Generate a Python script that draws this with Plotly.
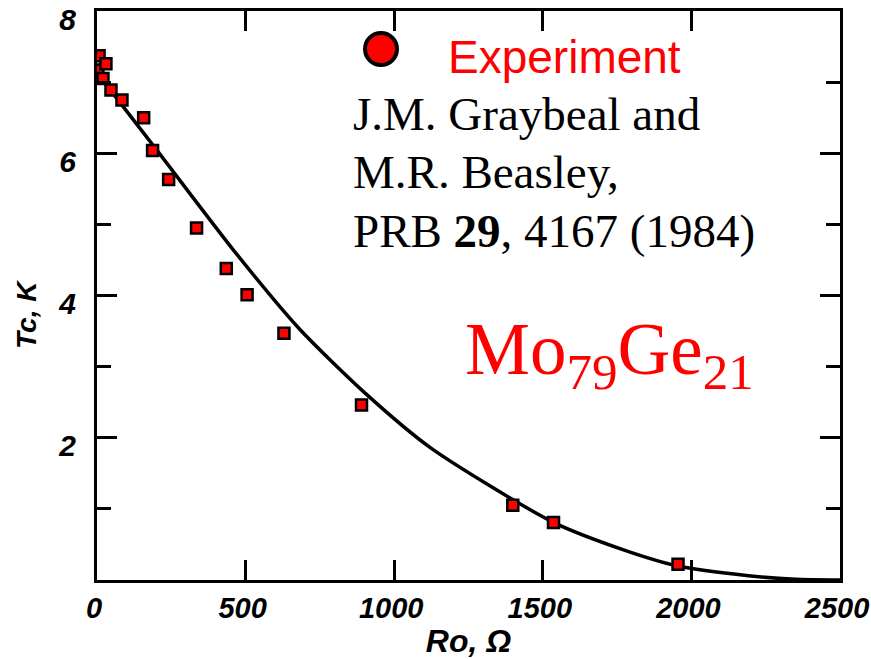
import plotly.graph_objects as go

# Experimental points (sheet resistance R, Ohm ; Tc, K)
exp_R = [3, 7, 20, 30, 47, 84, 157, 187, 241, 335, 435, 505, 629, 890, 1399, 1536, 1955]
exp_Tc = [7.17, 7.37, 7.05, 7.26, 6.89, 6.75, 6.50, 6.04, 5.63, 4.95, 4.38, 4.01, 3.47, 2.46, 1.05, 0.81, 0.22]

# Theory curve
th_R = [0, 200, 455, 679, 904, 1125, 1536, 1774, 1951, 2192, 2350, 2500]
th_Tc = [7.13, 6.05, 4.66, 3.54, 2.62, 1.85, 0.81, 0.42, 0.20, 0.06, 0.01, 0.0]

x_ticks = [0, 500, 1000, 1500, 2000, 2500]
y_ticks = [2, 4, 6, 8]
y_minor = [1, 3, 5, 7]

W, H = 871, 659
L, R, T, B = 97, 31, 11, 79
pw, ph = W - L - R, H - T - B

def px(xp):
    return (xp - L) / pw

def py(yp):
    return (H - B - yp) / ph

fig = go.Figure()
fig.add_trace(go.Scatter(x=th_R, y=th_Tc, mode="lines", line=dict(color="black", width=3.5, shape="spline", smoothing=0.7),
                         showlegend=False, hoverinfo="skip"))
fig.add_trace(go.Scatter(x=exp_R, y=exp_Tc, mode="markers", name="Experiment",
                         marker=dict(symbol="square", size=11, color="#ff0000", line=dict(color="black", width=2.5)),
                         showlegend=False))

fig.update_xaxes(range=[0, 2500], tickmode="array", tickvals=x_ticks, ticktext=[str(v) for v in x_ticks],
                 ticks="inside", ticklen=20, tickwidth=2.5, tickcolor="black",
                 showline=True, linewidth=3, linecolor="black", mirror="ticks",
                 showgrid=False, zeroline=False, ticklabelstandoff=0, ticklabelshift=-3,
                 tickfont=dict(family="Liberation Sans", size=29, color="black", style="italic", weight="bold"),
                 title=dict(text="Ro, Ω", font=dict(family="Liberation Sans", size=32, color="black", style="italic", weight="bold"), standoff=6))
fig.update_yaxes(range=[0, 8], tickmode="array", tickvals=y_ticks, ticktext=[str(v) for v in y_ticks],
                 ticks="inside", ticklen=20, tickwidth=2.5, tickcolor="black",
                 minor=dict(tickvals=y_minor, ticks="inside", ticklen=14, tickwidth=2.5, tickcolor="black", showgrid=False),
                 showline=True, linewidth=3, linecolor="black", mirror="ticks",
                 showgrid=False, zeroline=False, ticklabelstandoff=12, ticklabelshift=8,
                 tickfont=dict(family="Liberation Sans", size=30, color="black", style="italic", weight="bold"))

# y-axis title
fig.add_annotation(xref="paper", yref="paper", x=px(27), y=py(315), xanchor="center", yanchor="middle",
                   text="Tc, K", textangle=-90, showarrow=False,
                   font=dict(family="Liberation Sans", size=28, color="black", style="italic", weight="bold"))

# legend key circle
r_out = 16
fig.add_shape(type="circle", xref="paper", yref="paper",
              x0=px(381 - r_out), x1=px(381 + r_out), y0=py(49 + r_out), y1=py(49 - r_out),
              fillcolor="#ff0000", line=dict(color="black", width=4))

fig.add_annotation(xref="paper", yref="paper", x=px(446), y=py(85), xanchor="left", yanchor="bottom",
                   text="Experiment", showarrow=False,
                   font=dict(family="Liberation Sans", size=46, color="#ff0000"))

ref_lines = ["J.M. Graybeal and", "M.R. Beasley,", "PRB <b>29</b>, 4167 (1984)"]
baselines = [131, 189, 248]
for txt, bl in zip(ref_lines, baselines):
    fig.add_annotation(xref="paper", yref="paper", x=px(351), y=py(bl + 11), xanchor="left", yanchor="bottom",
                       text=txt, showarrow=False, align="left",
                       font=dict(family="Liberation Serif", size=47, color="black"))

fig.add_annotation(xref="paper", yref="paper", x=px(463), y=py(307), xanchor="left", yanchor="top",
                   text="Mo<sub>79</sub>Ge<sub>21</sub>", showarrow=False,
                   font=dict(family="Liberation Serif", size=73, color="#ff0000"))

fig.update_layout(width=W, height=H, margin=dict(l=L, r=R, t=T, b=B, autoexpand=False),
                  plot_bgcolor="white", paper_bgcolor="white", showlegend=False)

fig.write_html("out.html")
